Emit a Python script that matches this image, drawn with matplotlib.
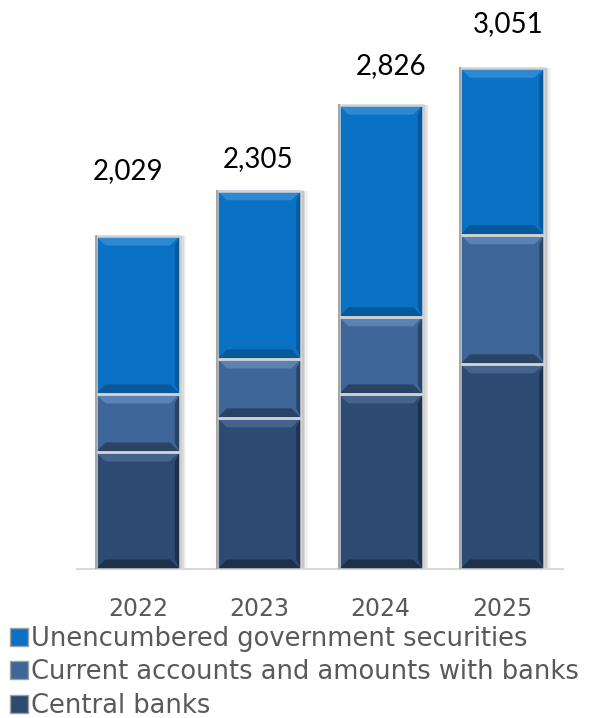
import matplotlib
matplotlib.use("Agg")
import matplotlib.pyplot as plt
from matplotlib.patches import Polygon, Rectangle

plt.rcParams["font.family"] = ["DejaVu Sans"]

# data
years = ["2022", "2023", "2024", "2025"]
central_banks = [713, 921, 1067, 1250]
current_accounts = [354, 359, 470, 787]
gov_securities = [962, 1025, 1289, 1014]
totals = [2029, 2305, 2826, 3051]
total_labels = ["2,029", "2,305", "2,826", "3,051"]

series_names = ["Central banks",
                "Current accounts and amounts with banks",
                "Unencumbered government securities"]
series_values = [central_banks, current_accounts, gov_securities]

# face, light bevel, dark bevel
face_colors = ["#2c4a72", "#3e6698", "#0a72c4"]
light_colors = ["#45648d", "#5b82b2", "#2f88d2"]
dark_colors = ["#1d314d", "#2a4468", "#08599a"]

# label offsets (pixels) relative to the bar top, as placed in the original
label_offsets = [(-10, 65), (-1, 32), (10, 39), (6, 44)]

bar_width = 0.69
bev_x = 0.08    # bevel size in x data units (~10 px)
bev_y = 58      # bevel size in y data units (~10 px)

fig = plt.figure(figsize=(5.89, 7.18), dpi=100)
ax = fig.add_axes([77 / 589, 149 / 718, 486 / 589, 558 / 718])


def draw_segment(x, bottom, height, face, light, dark):
    x0, x1 = x - bar_width / 2, x + bar_width / 2
    y0, y1 = bottom, bottom + height
    # soft shadow on the right
    for i, a in enumerate([0.45, 0.3, 0.18, 0.09, 0.04]):
        ax.add_patch(Rectangle((x1 + i * 0.011, y0), 0.011, height,
                               facecolor="#404040", alpha=a, linewidth=0, zorder=1))
    ax.bar(x, height, bar_width, bottom=bottom, color=face, linewidth=0, zorder=2)
    top = [(x0, y1), (x1, y1), (x1 - bev_x, y1 - bev_y), (x0 + bev_x, y1 - bev_y)]
    bot = [(x0, y0), (x1, y0), (x1 - bev_x, y0 + bev_y), (x0 + bev_x, y0 + bev_y)]
    right = [(x1, y0), (x1, y1), (x1 - bev_x * 0.5, y1 - bev_y), (x1 - bev_x * 0.5, y0 + bev_y)]
    ax.add_patch(Polygon(top, closed=True, facecolor=light, linewidth=0, zorder=3))
    ax.add_patch(Polygon(bot, closed=True, facecolor=dark, linewidth=0, zorder=3))
    ax.add_patch(Polygon(right, closed=True, facecolor=dark, linewidth=0, zorder=3))
    ax.add_patch(Rectangle((x0, y0), bar_width, height, facecolor="none",
                           edgecolor="#d2d2d2", linewidth=1.8, zorder=4))
    ax.plot([x0, x0], [y0, y1], color="#a8a8a8", linewidth=1.5, zorder=5)


xs = list(range(len(years)))
bottoms = [0] * len(years)
for vals, face, light, dark in zip(series_values, face_colors, light_colors, dark_colors):
    for i, x in enumerate(xs):
        draw_segment(x, bottoms[i], vals[i], face, light, dark)
        bottoms[i] += vals[i]

for i, x in enumerate(xs):
    ax.annotate(total_labels[i], (x, totals[i]), xytext=label_offsets[i],
                textcoords="offset pixels", ha="center", va="center",
                fontsize=20, family="Lato", color="black")

ax.set_xlim(-0.5, 3.5)
ax.set_ylim(0, 3400)
ax.set_xticks(xs)
ax.set_xticklabels(years, fontsize=17, color="#595959")
ax.tick_params(axis="x", length=0, pad=20)
ax.set_yticks([])
for s in ["top", "left", "right"]:
    ax.spines[s].set_visible(False)
ax.spines["bottom"].set_color("#d9d9d9")
ax.spines["bottom"].set_linewidth(1.5)
ax.patch.set_alpha(0)

handles = [Rectangle((0, 0), 1, 1, facecolor=face_colors[k], edgecolor="#a0a0a0",
                     linewidth=1.0) for k in [2, 1, 0]]
labels = [series_names[k] for k in [2, 1, 0]]
fig.legend(handles, labels, loc="upper left", bbox_to_anchor=(0.0, 1 - 616 / 718),
           frameon=False, fontsize=18.5, labelcolor="#595959",
           handlelength=0.7, handleheight=0.7, handletextpad=0.12,
           labelspacing=0.28, borderaxespad=0, borderpad=0.4)

fig.savefig("out.png", dpi=100)
